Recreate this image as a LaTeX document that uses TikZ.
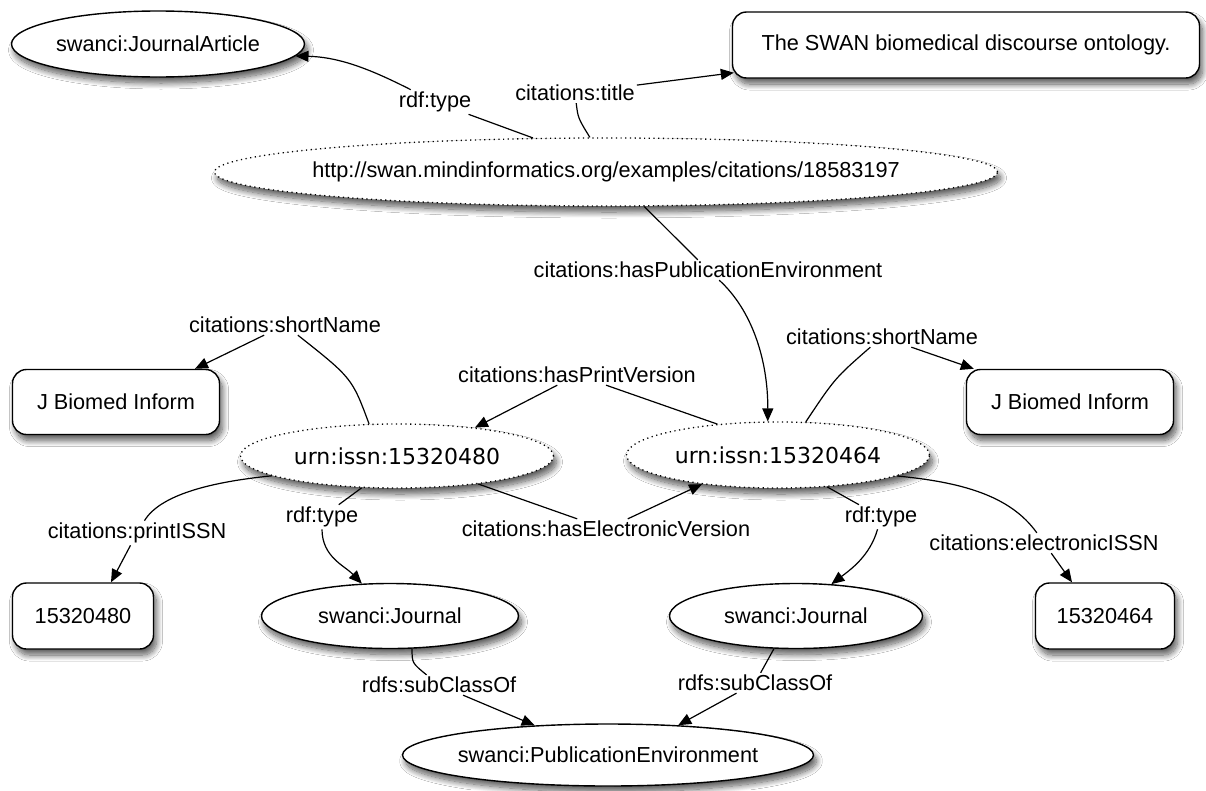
\documentclass[tikz,border=0pt]{standalone}
\usepackage{fontspec}
\setmainfont{Liberation Sans}
\newfontfamily\urnfont{DejaVu Sans}
\usetikzlibrary{arrows.meta,shapes.geometric,shadows.blur}
\newcommand{\zw}[1]{\makebox[0pt]{#1}}
\begin{document}
\begin{tikzpicture}[x=1pt,y=-1pt,
  every node/.style={font=\fontsize{21.7}{26}\selectfont},
  shadowed/.style={blur shadow={shadow xshift=3pt,shadow yshift=-6pt,shadow blur radius=6pt,shadow opacity=65,shadow blur steps=12}},
  res/.style={ellipse, draw, line width=1.4pt, fill=white, inner sep=0pt, shadowed},
  blank/.style={ellipse, draw, line width=1.3pt, dash pattern=on 1.2pt off 3.5pt, fill=white, inner sep=0pt, shadowed},
  lit/.style={rectangle, rounded corners=14pt, draw, line width=1.4pt, fill=white, inner sep=0pt, shadowed},
  urn/.style={font=\urnfont\fontsize{22}{26}\selectfont},
  lab/.style={inner sep=2pt},
  edge/.style={line width=1.2pt},
  arr/.style={line width=1.2pt, -{Triangle[length=13pt,width=11pt]}},
]
\fill[white] (0,0) rectangle (1206,790);
\useasboundingbox (0,0) rectangle (1206,790);

% nodes
\node[res, minimum width=293pt, minimum height=66pt] (ja) at (158,44) {\zw{swanci:JournalArticle}};
\node[lit, minimum width=467pt, minimum height=66pt] (title) at (966,45) {The SWAN biomedical discourse ontology.};
\node[blank, minimum width=783pt, minimum height=68pt] (url) at (606,172) {\zw{http://swan.mindinformatics.org/examples/citations/18583197}};
\node[lit, minimum width=207pt, minimum height=65pt] (jbl) at (116,402) {J Biomed Inform};
\node[lit, minimum width=207pt, minimum height=65pt] (jbr) at (1070,402) {J Biomed Inform};
\node[blank, urn, minimum width=313pt, minimum height=64pt] (u80) at (397,456) {\zw{urn:issn:15320480}};
\node[blank, urn, minimum width=303pt, minimum height=66pt] (u64) at (778,455) {\zw{urn:issn:15320464}};
\node[lit, minimum width=141pt, minimum height=66pt] (b80) at (83,616) {15320480};
\node[res, minimum width=257pt, minimum height=65pt] (jl) at (390,616) {\zw{swanci:Journal}};
\node[res, minimum width=253pt, minimum height=65pt] (jr) at (796,616) {\zw{swanci:Journal}};
\node[lit, minimum width=139pt, minimum height=66pt] (b64) at (1105,616) {15320464};
\node[res, minimum width=411pt, minimum height=62pt] (pe) at (608,755) {\zw{swanci:PublicationEnvironment}};

% labels
\node[lab] (l1) at (435,102) {rdf:type};
\node[lab] (l2) at (575,93) {citations:title};
\node[lab] (l3) at (708,270) {citations:hasPublicationEnvironment};
\node[lab] (l4) at (285,325) {citations:shortName};
\node[lab] (l5) at (882,337) {citations:shortName};
\node[lab] (l6) at (577,375) {citations:hasPrintVersion};
\node[lab] (l7) at (606,529) {citations:hasElectronicVersion};
\node[lab] (l8) at (137,533) {citations:printISSN};
\node[lab] (l9) at (322,517) {rdf:type};
\node[lab] (l10) at (881,517) {rdf:type};
\node[lab] (l11) at (1044,543) {citations:electronicISSN};
\node[lab] (l12) at (439,685) {rdfs:subClassOf};
\node[lab] (l13) at (755,683) {rdfs:subClassOf};

% edges
\draw[edge] (url.155.9) -- (l1);
\draw[arr] (l1) .. controls (372,70) and (340,57) .. (ja.-5.75);
\draw[edge] (url.115.9) .. controls (578,118) .. (l2);
\draw[arr] (l2) -- ([xshift=2pt,yshift=6pt]title.south west);
\draw[edge] (url.-42.6) -- (l3);
\draw[arr] (l3) .. controls (752,310) and (768,360) .. (u64.107);
\draw[edge] (u80.131.2) .. controls (352,378) .. (l4);
\draw[arr] (l4) -- ([xshift=79pt]jbl.north);
\draw[edge] (u64.50.7) .. controls (835,378) .. (l5);
\draw[arr] (l5) -- ([xshift=8pt]jbr.north west);
\draw[edge] (u64.153.4) -- (l6);
\draw[arr] (l6) -- (u80.20.9);
\draw[edge] (u80.-19.6) -- (l7);
\draw[arr] (l7) -- (u64.201.9);
\draw[edge] (u80.189.7) .. controls (210,482) and (160,495) .. (l8);
\draw[arr] (l8) -- ([xshift=28pt]b80.north);
\draw[edge] (u80.-138.3) -- (l9);
\draw[arr] (l9) .. controls (322,557) and (345,566) .. (jl.131.5);
\draw[edge] (u64.-33.1) -- (l10);
\draw[arr] (l10) .. controls (870,556) and (850,570) .. (jr.42.6);
\draw[edge] (u64.-10.8) .. controls (960,482) and (1010,495) .. (l11);
\draw[arr] (l11) -- ([xshift=-33pt]b64.north);
\draw[edge] (jl.-56.8) .. controls (412,663) .. (l12);
\draw[arr] (l12) -- (pe.158.3);
\draw[edge] (jr.-124.5) -- (l13);
\draw[arr] (l13) -- (pe.23.6);
\end{tikzpicture}
\end{document}
